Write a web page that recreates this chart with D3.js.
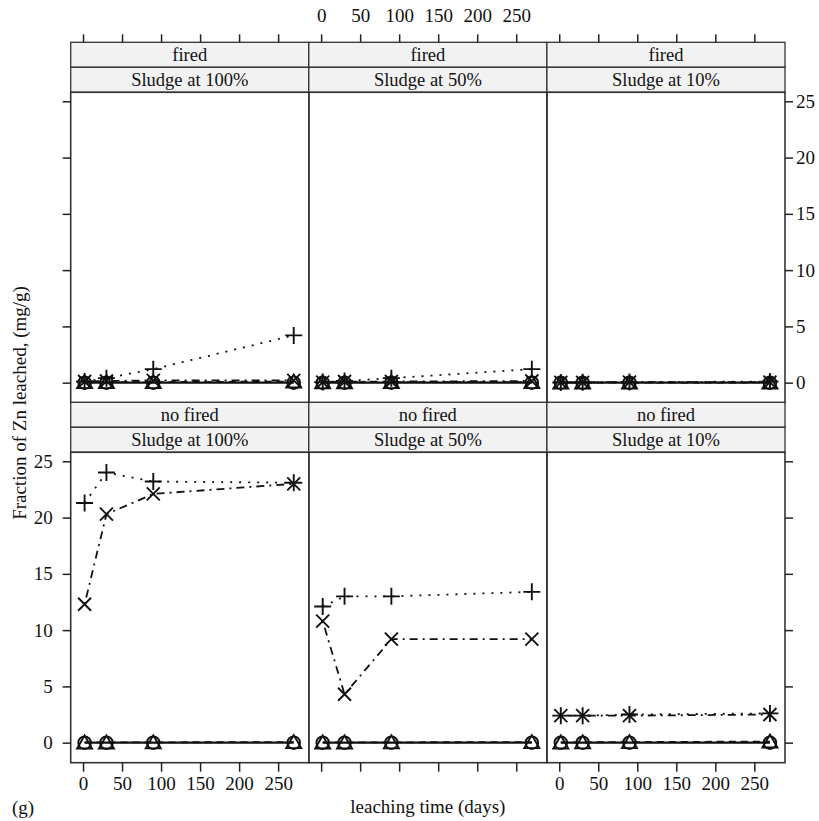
<!DOCTYPE html>
<html>
<head>
<meta charset="utf-8">
<script src="https://d3js.org/d3.v7.min.js"></script>
<style>
  body { margin: 0; background: #fff; }
  svg text { font-family: "Liberation Serif", "DejaVu Serif", serif; fill: #111; }
</style>
</head>
<body>
<div id="chart"></div>
<script>
// leaching time (days) and panel labels
var days = [2, 30, 90, 270];
var firing = ["fired", "no fired"];
var sludge = ["Sludge at 100%", "Sludge at 50%", "Sludge at 10%"];
var groups = ["G1", "G2", "G3", "G4"];
var xTicks = [0, 50, 100, 150, 200, 250];
var yTicks = [0, 5, 10, 15, 20, 25];

// Zn leached (mg/g), one row per group: circle, triangle, plus, cross
var fired100 = [[0, 0, 0, 0], [0.05, 0.05, 0.05, 0.1], [0.1, 0.4, 1.2, 4.2], [0.1, 0.15, 0.2, 0.2]];
var fired50 = [[0, 0, 0, 0], [0.03, 0.03, 0.05, 0.05], [0.05, 0.15, 0.4, 1.2], [0.05, 0.1, 0.1, 0.15]];
var fired10 = [[0, 0, 0, 0], [0, 0, 0, 0.02], [0.02, 0.03, 0.05, 0.1], [0.02, 0.03, 0.05, 0.05]];
var nofired100 = [[0, 0, 0, 0], [0.02, 0.02, 0.03, 0.05], [21.3, 24.0, 23.2, 23.1], [12.3, 20.3, 22.1, 23.0]];
var nofired50 = [[0, 0, 0, 0], [0.02, 0.02, 0.03, 0.05], [12.1, 13.0, 13.0, 13.4], [10.8, 4.3, 9.2, 9.2]];
var nofired10 = [[0, 0, 0, 0], [0.02, 0.03, 0.05, 0.1], [2.4, 2.4, 2.5, 2.6], [2.4, 2.4, 2.4, 2.5]];

var panelData = [[fired100, fired50, fired10], [nofired100, nofired50, nofired10]];

var svgWidth = 819, svgHeight = 821;
var left = 70.7, colW = 238.1;
var stripH = 25, panelH = 310.4;
var rowTop = [42.3, 402.3];

var dashes = [null, "7,5", "2,7", "2,5,8,5"];

var svg = d3.select("#chart").append("svg")
  .attr("width", svgWidth)
  .attr("height", svgHeight);

var x = d3.scaleLinear().domain([-15.8, 289.3]).range([0, colW]);
var y = d3.scaleLinear().domain([-1.78, 25.8]).range([panelH, 0]);

var line = d3.line().x(d => x(d[0])).y(d => y(d[1]));

function drawSymbol(g, k, cx, cy) {
  var s = g.append("g").attr("transform", `translate(${cx},${cy})`)
    .attr("fill", "none").attr("stroke", "#111").attr("stroke-width", 1.9);
  if (k === 0) {
    s.append("circle").attr("r", 6.3);
  } else if (k === 1) {
    s.append("path").attr("d", "M0,-7L7.5,6L-7.5,6Z");
  } else if (k === 2) {
    s.append("path").attr("d", "M-8.5,0H8.5M0,-8.5V8.5");
  } else {
    s.append("path").attr("d", "M-6.5,-6.5L6.5,6.5M-6.5,6.5L6.5,-6.5");
  }
}

firing.forEach(function(f, r) {
  sludge.forEach(function(sl, c) {
    var x0 = left + c * colW;
    var y0 = rowTop[r];
    var g = svg.append("g").attr("transform", `translate(${x0},${y0})`);

    // strips
    [f, sl].forEach(function(lab, i) {
      g.append("rect")
        .attr("x", 0).attr("y", i * stripH)
        .attr("width", colW).attr("height", stripH)
        .attr("fill", "#f2f2f2").attr("stroke", "#333").attr("stroke-width", 1.3);
      g.append("text")
        .attr("x", colW / 2).attr("y", i * stripH + stripH / 2 + 6)
        .attr("text-anchor", "middle")
        .attr("font-size", "18.5px")
        .text(lab);
    });

    var p = g.append("g").attr("transform", `translate(0,${2 * stripH})`);

    // series lines and symbols
    var vals = panelData[r][c];
    vals.forEach(function(series, k) {
      var pts = days.map((d, i) => [d, series[i]]);
      p.append("path")
        .attr("d", line(pts))
        .attr("fill", "none")
        .attr("stroke", "#111")
        .attr("stroke-width", k === 0 ? 2.2 : 1.8)
        .attr("stroke-dasharray", dashes[k]);
      pts.forEach(d => drawSymbol(p, k, x(d[0]), y(d[1])));
    });

    p.append("rect")
      .attr("width", colW).attr("height", panelH)
      .attr("fill", "none").attr("stroke", "#333").attr("stroke-width", 1.6);

    // x axes: top row gets top axis, bottom row bottom axis
    if (r === 0) {
      var ax = d3.axisTop(x).tickValues(xTicks).tickSize(8).tickPadding(12);
      if (c !== 1) ax.tickFormat("");
      var ag = g.append("g").call(ax);
      ag.select(".domain").remove();
    } else {
      var ax = d3.axisBottom(x).tickValues(xTicks).tickSize(9).tickPadding(5);
      if (c === 1) ax.tickFormat("");
      var ag = p.append("g").attr("transform", `translate(0,${panelH})`).call(ax);
      ag.select(".domain").remove();
    }

    // y axes on outer columns
    if (c === 0) {
      var ay = d3.axisLeft(y).tickValues(yTicks).tickSize(8).tickPadding(10);
      if (r === 0) ay.tickFormat("");
      var yg = p.append("g").call(ay);
      yg.select(".domain").remove();
    }
    if (c === 2) {
      var ay = d3.axisRight(y).tickValues(yTicks).tickSize(8).tickPadding(3);
      if (r === 1) ay.tickFormat("");
      var yg = p.append("g").attr("transform", `translate(${colW},0)`).call(ay);
      yg.select(".domain").remove();
    }
  });
});

svg.selectAll(".tick line").attr("stroke", "#222").attr("stroke-width", 1.5);
svg.selectAll(".tick text")
  .attr("font-size", "19px")
  .attr("fill", "#111");

// axis titles
svg.append("text")
  .attr("transform", "translate(26,403) rotate(-90)")
  .attr("text-anchor", "middle")
  .attr("font-size", "19px")
  .text("Fraction of Zn leached, (mg/g)");

svg.append("text")
  .attr("x", left + 1.5 * colW).attr("y", 813)
  .attr("text-anchor", "middle")
  .attr("font-size", "19px")
  .text("leaching time (days)");

svg.append("text")
  .attr("x", 12).attr("y", 814)
  .attr("font-size", "19px")
  .text("(g)");
</script>
</body>
</html>
